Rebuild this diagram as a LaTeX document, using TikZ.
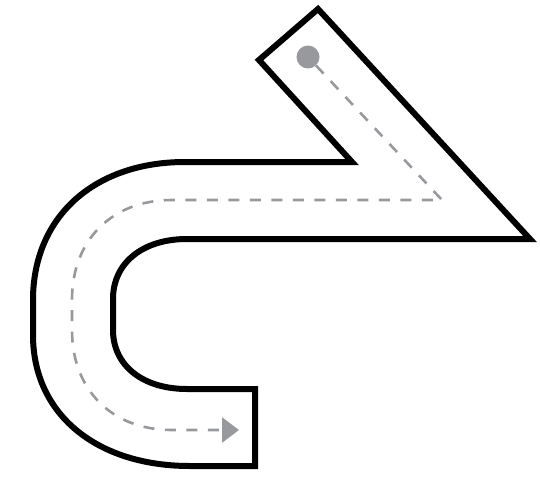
\documentclass[tikz,border=0pt]{standalone}
\usetikzlibrary{arrows.meta}
\definecolor{pathgray}{RGB}{152,153,157}
\begin{document}
\begin{tikzpicture}[x=1pt,y=-1pt,
  outline/.style={draw=black,line width=6pt,line join=miter,fill=white},
  route/.style={draw=pathgray,line width=2.6pt,dash pattern=on 11pt off 10.5pt},
  startdot/.style={circle,fill=pathgray,inner sep=0pt,minimum size=23pt}]
\useasboundingbox[fill=white] (0,0) rectangle (540,487);
% outline of the bent arrow
\coordinate (T) at (318,9);
\coordinate (R) at (530,239);
\coordinate (N) at (352,162);
\coordinate (L) at (259,60);
\path[outline] (T) -- (R) -- (187,239)
  .. controls (142.6,239) and (113,263) .. (113,299)
  -- (113,330)
  .. controls (113,365.4) and (142.6,389) .. (187,389)
  -- (255,389) -- (255,466) -- (190,466)
  .. controls (95.8,466) and (33,413.6) .. (33,335)
  -- (33,300)
  .. controls (33,217.2) and (93.8,162) .. (185,162)
  -- (N) -- (L) -- cycle;
% route
\node[startdot] (start) at (308,57) {};
\coordinate (bend) at (442,200);
\coordinate (finish) at (239,430);
\draw[route,-{Triangle[length=17pt,width=25pt]}] (start) -- (bend) -- (172,200)
  .. controls (112,200) and (72,240) .. (72,300)
  -- (72,330)
  .. controls (72,390) and (112,430) .. (172,430)
  -- (finish);
\end{tikzpicture}
\end{document}
